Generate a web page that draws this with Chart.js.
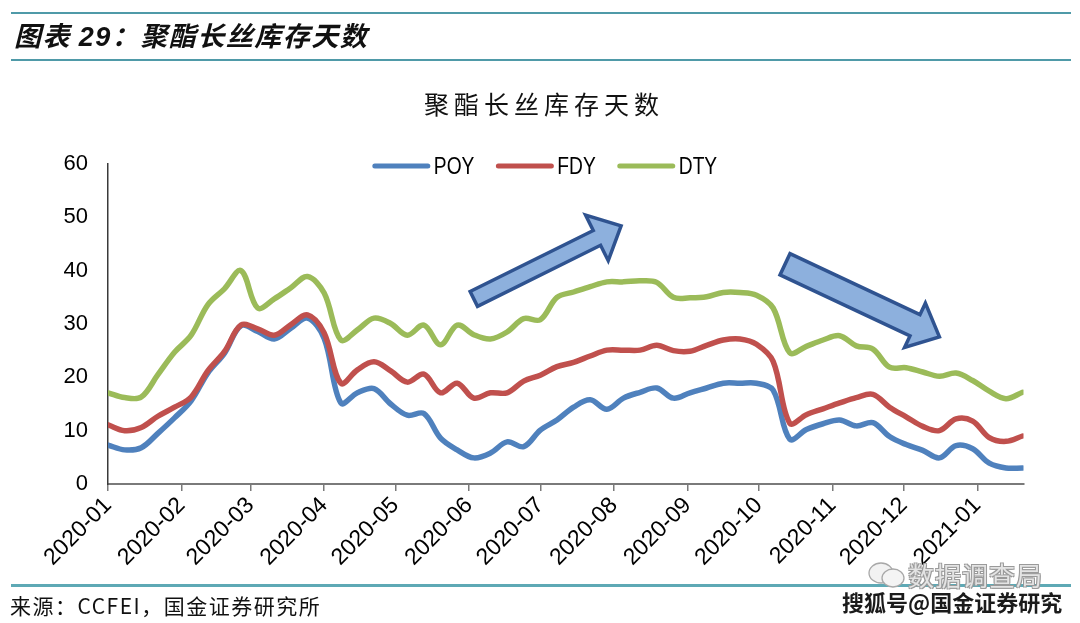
<!DOCTYPE html>
<html>
<head>
<meta charset="utf-8">
<script src="https://cdn.jsdelivr.net/npm/chart.js@4/dist/chart.umd.min.js"></script>
<style>
  html, body { margin: 0; padding: 0; background: #fff; }
  body { width: 1080px; height: 623px; position: relative; overflow: hidden; font-family: "Noto Sans CJK SC", "Liberation Sans", sans-serif; }
  #wrap { position: absolute; left: 0; top: 0; width: 1080px; height: 623px; }
  .rule { position: absolute; left: 11px; width: 1060px; height: 2px; background: #4f9aa8; }
  #hdr { position: absolute; left: 14px; top: 15px; font-size: 27px; font-weight: bold; font-style: italic; letter-spacing: 1.5px; color: #111; line-height: 40px; white-space: nowrap; }
  #hdr .num { font-family: "Liberation Sans", Arial, sans-serif; }
  #ttl { position: absolute; left: 0; width: 1080px; top: 86px; text-align: center; font-size: 25px; letter-spacing: 5px; color: #111; line-height: 34px; padding-left: 8px; box-sizing: border-box; }
  #src { position: absolute; left: 10px; top: 591px; font-size: 21px; letter-spacing: 1.5px; color: #111; line-height: 28px; white-space: nowrap; }
  #wm1 { position: absolute; left: 908px; top: 559px; font-size: 26px; color: #e4e4e4; line-height: 32px; letter-spacing: 1px; white-space: nowrap;
         text-shadow: -1px -1px 0 #9a9a9a, 1px -1px 0 #9a9a9a, -1px 1px 0 #9a9a9a, 1px 1px 0 #9a9a9a; }
  #wm2 { position: absolute; left: 842px; top: 586px; font-size: 22px; font-weight: bold; color: #1b1b1b; line-height: 30px; white-space: nowrap;
         text-shadow: -1px -1px 0 #fff, 1px -1px 0 #fff, -1px 1px 0 #fff, 1px 1px 0 #fff; }
  #wmi { position: absolute; left: 866px; top: 560px; }
</style>
</head>
<body>
<div id="wrap"><canvas id="c" width="1080" height="623"></canvas></div>
<div class="rule" style="top:12px"></div>
<div class="rule" style="top:59px"></div>
<div id="hdr">图表 <span class="num">29</span>：聚酯长丝库存天数</div>
<div id="ttl">聚酯长丝库存天数</div>
<div class="rule" style="top:584px; height:2.5px; background:#5ea9b5"></div>
<div id="src">来源：CCFEI，国金证券研究所</div>
<svg id="wmi" width="42" height="30" viewBox="0 0 42 30">
  <ellipse cx="15" cy="13" rx="12" ry="10" fill="#f2f2f2" stroke="#a8a8a8" stroke-width="1.3"/>
  <ellipse cx="27" cy="18" rx="11" ry="9" fill="#f4f4f4" stroke="#a8a8a8" stroke-width="1.3"/>
</svg>
<div id="wm1">数据调查局</div>
<div id="wm2">搜狐号@国金证券研究</div>

<script>
// ---- data ----
const dates = [
  '2020-01-01','2020-01-08','2020-01-15','2020-01-22','2020-01-29','2020-02-05','2020-02-12','2020-02-19',
  '2020-02-26','2020-03-04','2020-03-11','2020-03-18','2020-03-25','2020-04-01','2020-04-08','2020-04-15',
  '2020-04-22','2020-04-29','2020-05-06','2020-05-13','2020-05-20','2020-05-27','2020-06-03','2020-06-10',
  '2020-06-17','2020-06-24','2020-07-01','2020-07-08','2020-07-15','2020-07-22','2020-07-29','2020-08-05',
  '2020-08-12','2020-08-19','2020-08-26','2020-09-02','2020-09-09','2020-09-16','2020-09-23','2020-09-30',
  '2020-10-07','2020-10-14','2020-10-21','2020-10-28','2020-11-04','2020-11-11','2020-11-18','2020-11-25',
  '2020-12-02','2020-12-09','2020-12-16','2020-12-23','2020-12-30','2021-01-06','2021-01-13','2021-01-20'
];
const poy = [7.3, 6.4, 6.8, 9.5, 12.4, 15.6, 20.8, 24.5, 29.7, 28.6,
             27.2, 29.2, 31.1, 27.3, 15.2, 17.1, 17.9, 15.0, 12.9, 13.2,
             8.6, 6.4, 4.9, 5.8, 7.9, 7.0, 10.1, 12.0, 14.4, 15.8,
             14.0, 16.1, 17.2, 18.0, 16.1, 17.1, 18.0, 18.9, 18.9, 18.9,
             17.6, 8.4, 10.2, 11.3, 12.0, 10.9, 11.5, 8.9, 7.4, 6.3,
             4.9, 7.2, 6.6, 3.9, 3.0, 3.0];
const fdy = [11.1, 10.0, 10.6, 12.7, 14.4, 16.3, 21.2, 24.8, 29.8, 29.1,
             27.9, 29.9, 31.7, 28.3, 18.9, 21.4, 22.9, 21.2, 19.1, 20.6,
             17.1, 18.9, 16.1, 17.1, 17.1, 19.3, 20.4, 22.0, 22.8, 24.0,
             25.1, 25.1, 25.1, 26.0, 25.0, 24.9, 26.0, 27.0, 27.2, 26.2,
             23.0, 11.4, 13.0, 14.1, 15.2, 16.2, 16.8, 14.4, 12.6, 10.8,
             10.0, 12.2, 11.8, 8.7, 8.0, 9.0];
const dty = [17.1, 16.2, 16.3, 20.5, 24.7, 27.9, 33.6, 36.6, 40.0, 33.0,
             34.7, 36.8, 38.9, 35.8, 27.0, 28.9, 31.1, 30.1, 27.9, 29.8,
             26.1, 29.8, 28.0, 27.2, 28.5, 31.0, 30.8, 35.0, 36.0, 37.0,
             37.9, 37.9, 38.1, 37.8, 35.0, 34.9, 35.1, 35.9, 35.9, 35.4,
             33.0, 24.6, 25.8, 27.0, 27.8, 25.9, 25.3, 21.9, 21.8, 21.0,
             20.2, 20.8, 19.4, 17.4, 16.0, 17.2];
const tickLabels = ['2020-01','2020-02','2020-03','2020-04','2020-05','2020-06','2020-07',
                    '2020-08','2020-09','2020-10','2020-11','2020-12','2021-01'];
const seriesNames = ['POY', 'FDY', 'DTY'];
const seriesColors = ['#4f81bd', '#c0504d', '#9bbb59'];
// trend arrows: [tailDate, tailValue, tipDate, tipValue]
const arrows = [
  ['2020-06-03', 34.7, '2020-08-04', 48.4],
  ['2020-10-12', 41.2, '2020-12-16', 27.6]
];

// ---- helpers ----
const DAY0 = Date.UTC(2020, 0, 1);
function dayOf(s) {
  const p = s.split('-').map(Number);
  return (Date.UTC(p[0], p[1] - 1, p[2] || 1) - DAY0) / 86400000;
}
const xs = dates.map(dayOf);
const tickDays = tickLabels.map(dayOf);
const series = [poy, fdy, dty];

const legendPlugin = {
  id: 'lineLegend',
  afterDraw(chart) {
    const ctx = chart.ctx;
    ctx.save();
    ctx.font = '24px "Liberation Sans", Arial, sans-serif';
    ctx.textBaseline = 'middle';
    const sx = 0.8;
    const lineLen = 57, gapText = 4, gapItem = 22;
    const items = chart.data.datasets.map(ds => ({ label: ds.label, color: ds.borderColor, w: ctx.measureText(ds.label).width * sx }));
    const total = items.reduce((a, it) => a + lineLen + gapText + it.w, 0) + gapItem * (items.length - 1);
    let x = chart.width / 2 + 5 - total / 2;
    const y = chart.chartArea.top + 2;
    items.forEach(it => {
      ctx.strokeStyle = it.color;
      ctx.lineWidth = 5;
      ctx.lineCap = 'round';
      ctx.beginPath();
      ctx.moveTo(x + 2, y);
      ctx.lineTo(x + lineLen - 2, y);
      ctx.stroke();
      ctx.fillStyle = '#000';
      ctx.save();
      ctx.translate(x + lineLen + gapText, y + 1);
      ctx.scale(sx, 1);
      ctx.fillText(it.label, 0, 0);
      ctx.restore();
      x += lineLen + gapText + it.w + gapItem;
    });
    ctx.restore();
  }
};

const arrowPlugin = {
  id: 'trendArrows',
  afterDatasetsDraw(chart) {
    const xsP = chart.scales.x, ysP = chart.scales.y, ctx = chart.ctx;
    const dims = [{ w: 16.5, hw: 51, hl: 27 }, { w: 23.5, hw: 49, hl: 27 }];
    arrows.forEach((a, i) => {
      const tx = xsP.getPixelForValue(dayOf(a[0])), ty = ysP.getPixelForValue(a[1]);
      const px = xsP.getPixelForValue(dayOf(a[2])), py = ysP.getPixelForValue(a[3]);
      const len = Math.hypot(px - tx, py - ty);
      const ux = (px - tx) / len, uy = (py - ty) / len;
      const nx = -uy, ny = ux;
      const d = dims[i];
      const bx = px - ux * d.hl, by = py - uy * d.hl;
      const pts = [
        [tx + nx * d.w / 2, ty + ny * d.w / 2],
        [bx + nx * d.w / 2, by + ny * d.w / 2],
        [bx + nx * d.hw / 2, by + ny * d.hw / 2],
        [px, py],
        [bx - nx * d.hw / 2, by - ny * d.hw / 2],
        [bx - nx * d.w / 2, by - ny * d.w / 2],
        [tx - nx * d.w / 2, ty - ny * d.w / 2]
      ];
      ctx.save();
      ctx.beginPath();
      pts.forEach((p, k) => k ? ctx.lineTo(p[0], p[1]) : ctx.moveTo(p[0], p[1]));
      ctx.closePath();
      ctx.fillStyle = '#8db0dd';
      ctx.fill();
      ctx.lineWidth = 3.5;
      ctx.lineJoin = 'miter';
      ctx.strokeStyle = '#2f5390';
      ctx.stroke();
      ctx.restore();
    });
  }
};

new Chart(document.getElementById('c'), {
  type: 'line',
  data: {
    datasets: seriesNames.map((name, i) => ({
      label: name,
      data: xs.map((x, k) => ({ x: x, y: series[i][k] })),
      borderColor: seriesColors[i],
      backgroundColor: seriesColors[i],
      borderWidth: 5.5,
      pointRadius: 0,
      tension: 0.35,
      borderCapStyle: 'round',
      borderJoinStyle: 'round',
      fill: false,
      order: 3 - i
    }))
  },
  options: {
    responsive: false,
    animation: false,
    layout: { padding: { top: 164, left: 0, right: 56.5, bottom: 0 } },
    plugins: { legend: { display: false }, title: { display: false }, tooltip: { enabled: false } },
    scales: {
      x: {
        type: 'linear',
        min: 0,
        max: dayOf(dates[dates.length - 1]) + 0.4,
        afterBuildTicks(scale) { scale.ticks = tickDays.map(v => ({ value: v })); },
        afterFit(scale) { scale.height = 139; },
        ticks: {
          autoSkip: false,
          maxRotation: 45,
          minRotation: 45,
          padding: 1,
          color: '#000',
          font: { family: '"Liberation Sans", Arial, sans-serif', size: 23 },
          callback(v) { const i = tickDays.indexOf(v); return i >= 0 ? tickLabels[i] : ''; }
        },
        grid: { display: true, drawOnChartArea: false, drawTicks: true, tickLength: 7, color: '#7a7a7a', lineWidth: 1.5 },
        border: { display: true, color: '#7a7a7a', width: 2 }
      },
      y: {
        min: 0,
        max: 60,
        afterFit(scale) { scale.width = 108; },
        ticks: {
          stepSize: 10,
          padding: 20,
          color: '#000',
          font: { family: '"Liberation Sans", Arial, sans-serif', size: 22 }
        },
        grid: { display: false, drawTicks: false },
        border: { display: true, color: '#3a3a3a', width: 1.5 }
      }
    }
  },
  plugins: [arrowPlugin, legendPlugin]
});
</script>
</body>
</html>
